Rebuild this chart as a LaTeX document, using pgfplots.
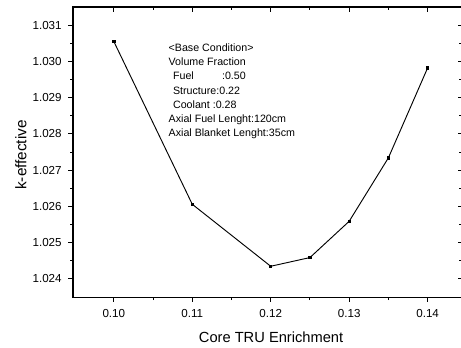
\documentclass[border=0pt]{standalone}
\usepackage{pgfplots}
\pgfplotsset{compat=1.18}
\usepackage{fontspec}
\setmainfont{Liberation Sans}

\begin{document}
\begin{tikzpicture}
\pgfplotsset{
  common/.style={
    scale only axis,
    width=291.75pt, height=217.5pt,
    xmin=0.0948, xmax=0.1444,
    ymin=1.0235, ymax=1.0315,
    xtick={0.10,0.11,0.12,0.13,0.14},
    ytick={1.024,1.025,1.026,1.027,1.028,1.029,1.030,1.031},
    minor x tick num=1, minor y tick num=1,
    major tick length=3.4pt, minor tick length=2.2pt,
    axis line style={line width=0.85pt},
    every tick/.style={black, line width=0.8pt},
    every minor tick/.style={black, line width=0.7pt},
  },
}
% bottom and left: outward ticks with labels
\begin{axis}[common,
  at={(0,0)}, anchor=south west,
  xtick pos=left, ytick pos=left, tick align=outside,
  /pgf/number format/assume math mode=true,
  xticklabel style={font=\fontsize{8.7}{10}\selectfont, yshift=-2.4pt,
    /pgf/number format/.cd, fixed, fixed zerofill, precision=2},
  yticklabel style={font=\fontsize{8.7}{10}\selectfont, xshift=-1.6pt,
    /pgf/number format/.cd, fixed, fixed zerofill, precision=3},
  scaled x ticks=false, scaled y ticks=false,
  xlabel={Core TRU Enrichment},
  ylabel={k-effective},
  xlabel style={font=\fontsize{11}{13}\selectfont, at={(axis description cs:0.509,-0.137)}, anchor=center},
  ylabel style={font=\fontsize{11.5}{13}\selectfont, at={(axis description cs:-0.134,0.49)}, anchor=center},
]
\addplot[black, line width=0.7pt, mark=square*, mark size=0.9pt] coordinates {
  (0.100,1.03055)
  (0.110,1.02606)
  (0.120,1.02435)
  (0.125,1.02459)
  (0.130,1.02559)
  (0.135,1.02734)
  (0.140,1.02982)
};
% condition summary
\node[anchor=north west, align=left, inner sep=0pt,
      font=\fontsize{8}{10.5}\selectfont]
  at (axis cs:0.10696,1.03048) {%
  {<}Base Condition{>}\\
  Volume Fraction\\
  \hspace*{3.3pt}\makebox[36.75pt][l]{Fuel}:0.50\\
  \hspace*{3.3pt}Structure:0.22\\
  \hspace*{3.3pt}Coolant :0.28\\
  Axial Fuel Lenght:120cm\\
  Axial Blanket Lenght:35cm};
\end{axis}
% top and right: inward ticks, no labels
\begin{axis}[common,
  at={(0,0)}, anchor=south west,
  xtick pos=right, ytick pos=right, tick align=inside,
  xticklabels={}, yticklabels={},
]
\end{axis}
\pgfresetboundingbox
\useasboundingbox (-54.75pt,-37.5pt) rectangle (290.9pt,222.75pt);
\end{tikzpicture}
\end{document}
